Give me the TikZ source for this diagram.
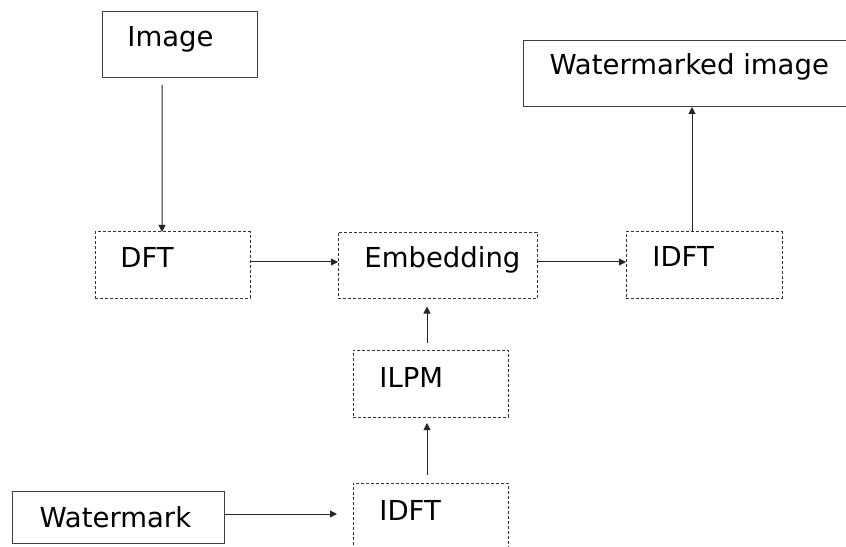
\documentclass[tikz,border=0pt]{standalone}
\usepackage{fontspec}
\setmainfont{DejaVu Sans}
\usetikzlibrary{arrows.meta}
\tikzset{
  solidbox/.style={draw=black!75, line width=1bp, inner sep=0pt, outer sep=0pt, rectangle},
  dashbox/.style={draw=black!80, line width=1bp, dash pattern=on 3bp off 2bp, inner sep=0pt, outer sep=0pt, rectangle},
  lbl/.style={anchor=base west, inner sep=0pt, outer sep=0pt, font=\fontsize{27.5bp}{32bp}\selectfont},
  arr/.style={draw=black!85, line width=1bp, -{Triangle[length=7bp,width=7bp]}}
}
\begin{document}
\begin{tikzpicture}[x=1bp,y=-1bp]
\useasboundingbox (0,0) rectangle (846,547);
\clip (0,0) rectangle (846,547);

% boxes
\node[solidbox, minimum width=155bp, minimum height=66bp] (img) at (179.5,45) {};
\node[solidbox, minimum width=335bp, minimum height=66bp] (wimg) at (690.5,74) {};
\node[dashbox, minimum width=155bp, minimum height=66bp] (dft) at (172.5,265) {};
\node[dashbox, minimum width=199bp, minimum height=66bp] (emb) at (437.5,265.5) {};
\node[dashbox, minimum width=156bp, minimum height=66bp] (idft) at (704,265) {};
\node[dashbox, minimum width=155bp, minimum height=67bp] (ilpm) at (430.5,383.5) {};
\node[dashbox, minimum width=155bp, minimum height=66bp] (idftb) at (430.5,516) {};
\node[solidbox, minimum width=211bp, minimum height=52bp] (wmk) at (118.5,517) {};

% labels
\node[lbl] (timg) at (127.4,47) {Image};
\node[lbl] (twimg) at (549.5,75) {Watermarked image};
\node[lbl] (tdft) at (120.4,268) {DFT};
\node[lbl] (temb) at (364.4,268) {Embedding};
\node[lbl] (tidft) at (652.4,267) {IDFT};
\node[lbl] (tilpm) at (379.4,387) {ILPM};
\node[lbl] (tidftb) at (379.4,520) {IDFT};
\node[lbl] (twmk) at (39.5,527) {Watermark};

% connectors
\draw[arr, shorten <=7bp] ([xshift=-17.5bp]img.south) -- ([xshift=-10.5bp]dft.north);
\draw[arr] ([yshift=3bp]dft.east) -- ([yshift=3bp]dft.east -| emb.west);
\draw[arr] ([yshift=3.5bp]emb.east) -- ([yshift=3.5bp]emb.east -| idft.west);
\draw[arr] ([xshift=-12bp]idft.north) -- ([xshift=-12bp]idft.north |- wimg.south);
\draw[arr, shorten <=7bp, shorten >=8bp] ([xshift=-3.5bp]ilpm.north) -- ([xshift=-3.5bp]ilpm.north |- emb.south);
\draw[arr, shorten <=8bp, shorten >=6bp] ([xshift=-3.5bp]idftb.north) -- ([xshift=-3.5bp]idftb.north |- ilpm.south);
\draw[arr, shorten >=16bp] ([yshift=3bp]wmk.east) -- ([yshift=3bp]wmk.east -| idftb.west);
\end{tikzpicture}
\end{document}
